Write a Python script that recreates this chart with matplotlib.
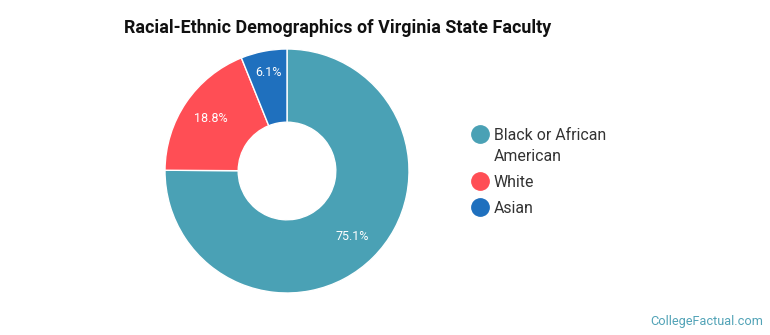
import numpy as np
import matplotlib
matplotlib.use('Agg')
import matplotlib.pyplot as plt
from matplotlib.lines import Line2D

plt.rcParams['font.family'] = ['Roboto', 'DejaVu Sans']

groups = ['Black or African\nAmerican', 'White', 'Asian']
shares = [75.1, 18.8, 6.1]
colors = ['#4AA1B5', '#FF4E55', '#1F70BE']

W, H = 770, 335
fig = plt.figure(figsize=(W / 100, H / 100), dpi=100)

# pie axes: centre (287,171) px, radius 122 px
cx, cy, r = 287, 171, 122
ax = fig.add_axes([(cx - r) / W, (H - cy - r) / H, 2 * r / W, 2 * r / H])
wedges, _ = ax.pie(shares, colors=colors, startangle=90, counterclock=False,
                   radius=1, wedgeprops=dict(width=0.6, edgecolor='white', linewidth=1))
ax.set_xlim(-1, 1)
ax.set_ylim(-1, 1)
ax.set_aspect('equal')
ax.axis('off')

# percentage labels inside the ring
label_r = [0.76, 0.76, 0.82]
for w, v, d in zip(wedges, shares, label_r):
    ang = np.deg2rad((w.theta1 + w.theta2) / 2)
    ax.text(d * np.cos(ang), d * np.sin(ang), f'{v:.1f}%', ha='center', va='center',
            color='white', fontsize=9)

fig.text(124 / W, 1 - 28 / H, 'Racial-Ethnic Demographics of Virginia State Faculty',
         fontsize=12.9, fontweight='bold', color='#111111', va='center', ha='left')

# legend drawn by hand so the marker sits on the first text line
legend_y = [134, 181, 207]
for lab, c, y in zip(groups, colors, legend_y):
    fig.add_artist(Line2D([480 / W], [1 - y / H], marker='o', markersize=12.5,
                          markerfacecolor=c, markeredgecolor=c, linestyle='none',
                          transform=fig.transFigure))
    fig.text(494 / W, 1 - (y - 6) / H, lab, fontsize=11.4, color='#333333',
             ha='left', va='top', linespacing=1.5)

fig.text(763 / W, 1 - 321 / H, 'CollegeFactual.com', fontsize=9.2, color='#52A3B7',
         ha='right', va='center')

fig.savefig('out.png', dpi=100, facecolor='white')
